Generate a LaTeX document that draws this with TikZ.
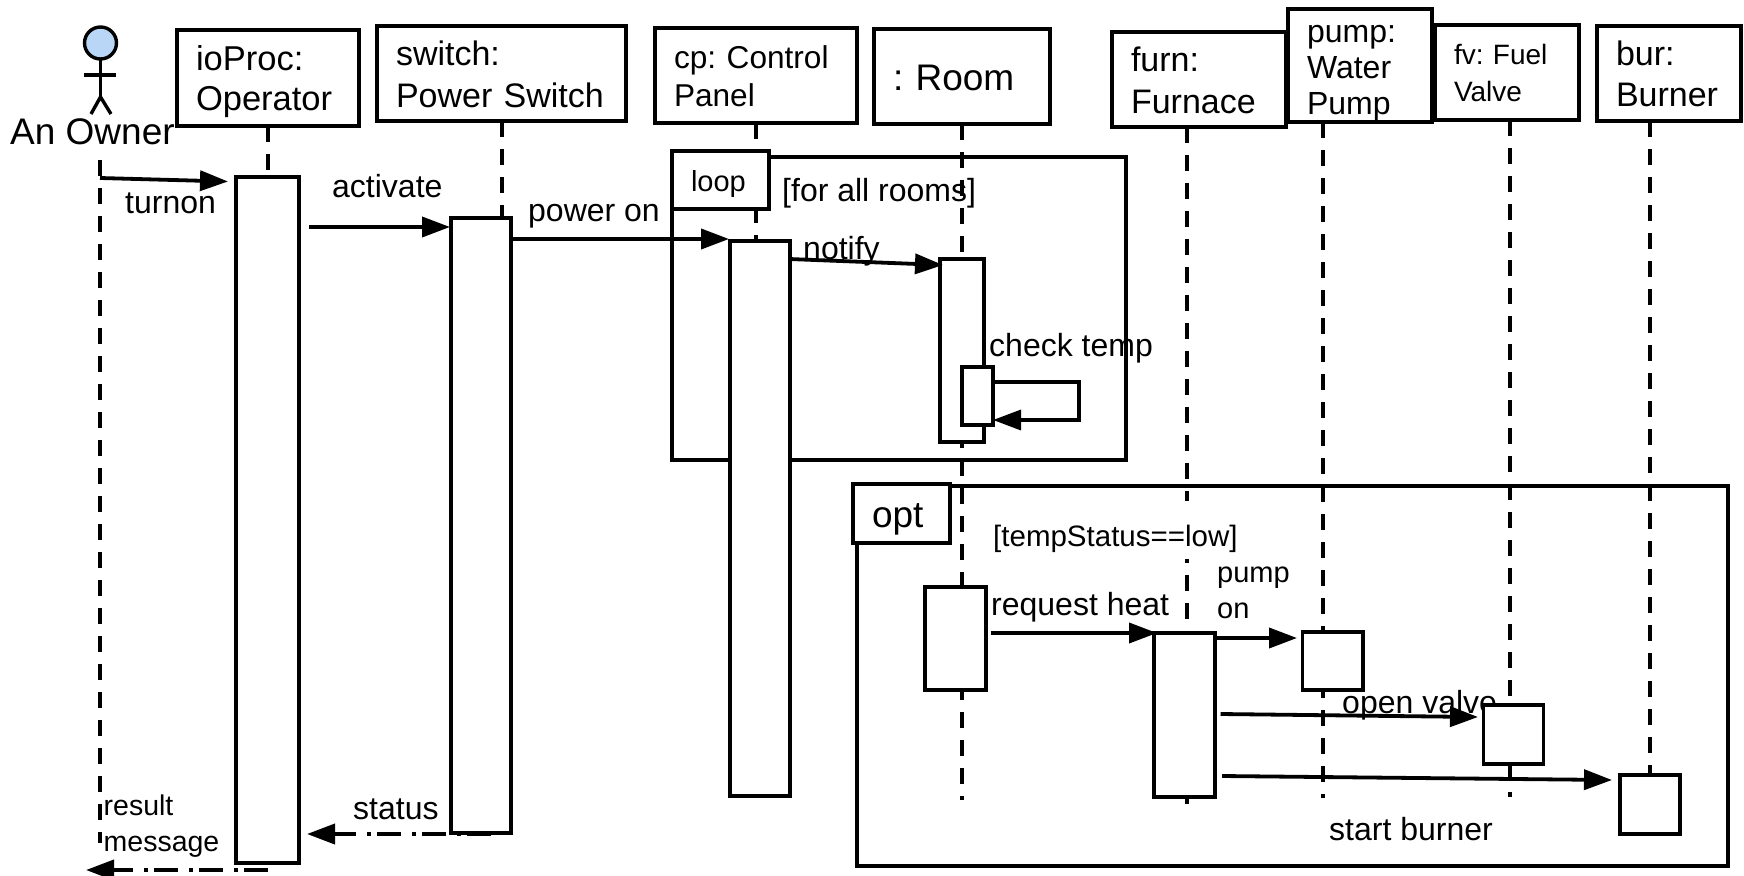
\documentclass[tikz,border=0pt]{standalone}
\usepackage{fontspec}
\setmainfont{Liberation Sans}
\usetikzlibrary{arrows.meta}

\definecolor{headblue}{HTML}{B9D6F6}

\tikzset{
	headbox/.style n args={4}{draw,fill=white,line width=4pt,outer sep=0pt,anchor=north west,align=left,inner xsep=19pt,inner ysep=0pt,
		minimum width=#1pt,minimum height=#2pt,text width=#1pt-38pt,font=\fontsize{#3}{#4}\selectfont\frenchspacing},
	firstline/.style={execute at begin node={\rule{0pt}{#1pt}},execute at end node={\rule[-7pt]{0pt}{0pt}}},
	barbox/.style 2 args={draw,fill=white,line width=3.8pt,outer sep=0pt,anchor=north west,inner sep=0pt,minimum width=#1pt,minimum height=#2pt},
	framebox/.style 2 args={draw,line width=3.8pt,outer sep=0pt,anchor=north west,inner sep=0pt,minimum width=#1pt,minimum height=#2pt},
	lbl/.style={anchor=base west,inner sep=0pt,font=\fontsize{#1}{#1}\selectfont\frenchspacing},
	lifeline/.style={line width=3.4pt,dash pattern=on 16pt off 12pt},
	actor/.style={line width=3.4pt},
	msgline/.style={line width=3.8pt,-{Triangle[length=28pt,width=20pt]}},
	backline/.style={msgline,dash pattern=on 24pt off 6pt on 4pt off 11pt}
}

\begin{document}
\begin{tikzpicture}[x=1pt,y=-1pt]
\useasboundingbox (0,0) rectangle (1744,875);

% lifelines
\foreach \name/\x/\ytop/\yend in {owner/100/160/843, io/268/126/177, sw/502/121/218, cp/756/123/241,
	room/962/124/800, furn/1187/127/804, pump/1323/122/798, fv/1510/120/797, bur/1650/121/776}
	{
	\coordinate (\name Top) at (\x,\ytop);
	\coordinate (\name End) at (\x,\yend);
	\draw[lifeline] (\name Top) -- (\name End);
	}

% actor
\node[draw,circle,fill=headblue,line width=3.4pt,outer sep=0pt,minimum size=32pt,inner sep=0pt] (ownerHead) at (100.5,43) {};
\coordinate (ownerHip) at (100.5,97);
\coordinate (ownerArmL) at (84,75);
\coordinate (ownerArmR) at (116,75);
\coordinate (ownerFootL) at (91,114);
\coordinate (ownerFootR) at (111,114);
\draw[actor] (ownerHead.south) -- (ownerHip);
\draw[actor] (ownerArmL) -- (ownerArmR);
\draw[actor] (ownerFootL) -- (ownerHip) -- (ownerFootR);
\node[lbl=37] (ownerLbl) at (10,144) {An Owner};

% heads
\node[headbox={182}{96}{34.5}{40},firstline=33] (ioHead) at (177,30) {ioProc:\\Operator};
\node[headbox={249}{95}{34}{41},firstline=33] (swHead) at (377,26) {switch:\\Power Switch};
\node[headbox={202}{95}{31.6}{37},firstline=31] (cpHead) at (655,28) {cp: Control\\Panel};
\node[headbox={176}{95}{37}{44},firstline=34] (roomHead) at (874,29) {: Room};
\node[headbox={174}{95}{34}{42},firstline=32] (furnHead) at (1112,32) {furn:\\Furnace};
\node[headbox={144}{113}{32}{36},firstline=32] (pumpHead) at (1288,9) {pump:\\Water\\Pump};
\node[headbox={144}{95}{28}{37},firstline=27] (fvHead) at (1435,25) {fv: Fuel\\Valve};
\node[headbox={144}{95}{34}{41},firstline=31] (burHead) at (1597,26) {bur:\\Burner};

% frames
\node[framebox={454}{303}] (loopFrame) at (672,157) {};
\node[framebox={871}{380}] (optFrame) at (857,486) {};
\node[headbox={97}{58}{29}{34},firstline=29] (loopTag) at (672,151) {loop};
\node[headbox={97}{59}{37}{44},firstline=36] (optTag) at (853,484) {opt};

% labels
\node[lbl=32] (turnonLbl) at (125,213) {turnon};
\node[lbl=32] (activateLbl) at (332,197) {activate};
\node[lbl=32] (poweronLbl) at (528,221) {power on};
\node[lbl=32] (roomsLbl) at (782,201) {[for all rooms]};
\node[lbl=32] (notifyLbl) at (803,259) {notify};
\node[lbl=32] (checkLbl) at (989,356) {check temp};
\node[lbl=29.5,fill=white,text height=45pt,text depth=13pt] (tempLbl) at (993,546) {[tempStatus==low]};
\node[lbl=32] (heatLbl) at (991,615) {request heat};
\node[lbl=29] (pumpLbl) at (1217,582) {pump};
\node[lbl=29] (pumponLbl) at (1217,618) {on};
\node[lbl=32] (valveLbl) at (1342,713) {open valve};
\node[lbl=32] (burnerLbl) at (1329,840) {start burner};
\node[lbl=32] (statusLbl) at (353,819) {status};
\node[lbl=28.5] (resultLbl) at (103.5,815) {result};
\node[lbl=28.5] (messageLbl) at (103.5,851) {message};

% activation bars
\node[barbox={63}{686}] (ioBar) at (236,177) {};
\node[barbox={60}{615}] (swBar) at (451,218) {};
\node[barbox={60}{555}] (cpBar) at (730,241) {};
\node[barbox={44}{183}] (roomBar) at (940,259) {};
\node[barbox={31}{58}] (chkBar) at (962,367) {};
\node[barbox={61}{103}] (heatBar) at (925,587) {};
\node[barbox={61}{164}] (furnBar) at (1154,633) {};
\node[barbox={60.5}{58}] (pumpBar) at (1302.5,632) {};
\node[barbox={60}{59}] (fvBar) at (1483.5,705) {};
\node[barbox={60}{59}] (burBar) at (1620,775) {};

% messages
\draw[msgline] ([yshift=-18pt]ownerTop) -- ([xshift=-8pt,yshift=-4.5pt]ioBar.north west);
\draw[msgline] ([xshift=10pt,yshift=-50pt]ioBar.north east) -- ([xshift=-1pt,yshift=-9pt]swBar.north west);
\draw[msgline] ([xshift=-2pt,yshift=-21pt]swBar.north east) -- ([xshift=-1pt,yshift=2pt]cpBar.north west);
\draw[msgline] ([xshift=-1pt,yshift=-18pt]cpBar.north east) -- ([xshift=3pt,yshift=-6pt]roomBar.north west);
\draw[msgline] ([xshift=4.5pt,yshift=-46pt]heatBar.north east) -- ([xshift=3pt]furnBar.north west);
\draw[msgline] ([yshift=-5pt]furnBar.north east) -- ([xshift=-5.5pt,yshift=-6pt]pumpBar.north west);
\draw[msgline] ([xshift=5.5pt,yshift=-81pt]furnBar.north east) -- ([xshift=-5.5pt,yshift=-12pt]fvBar.north west);
\draw[msgline] ([xshift=7pt,yshift=-143pt]furnBar.north east) -- ([xshift=-8pt,yshift=-5pt]burBar.north west);

% self call
\coordinate (selfA) at (1079,382);
\coordinate (selfB) at (1079,420);
\draw[msgline,line width=3.4pt] (chkBar.east |- selfA) -- (selfA) -- (selfB) -- (chkBar.east |- selfB);

% replies
\draw[backline] ([xshift=-20pt,yshift=-1pt]swBar.south east) -- ([xshift=8pt,yshift=29pt]ioBar.south east);
\draw[backline] ([yshift=-7pt]ioBar.south) -- ([xshift=-14pt,yshift=-27pt]ownerEnd);
\end{tikzpicture}
\end{document}
